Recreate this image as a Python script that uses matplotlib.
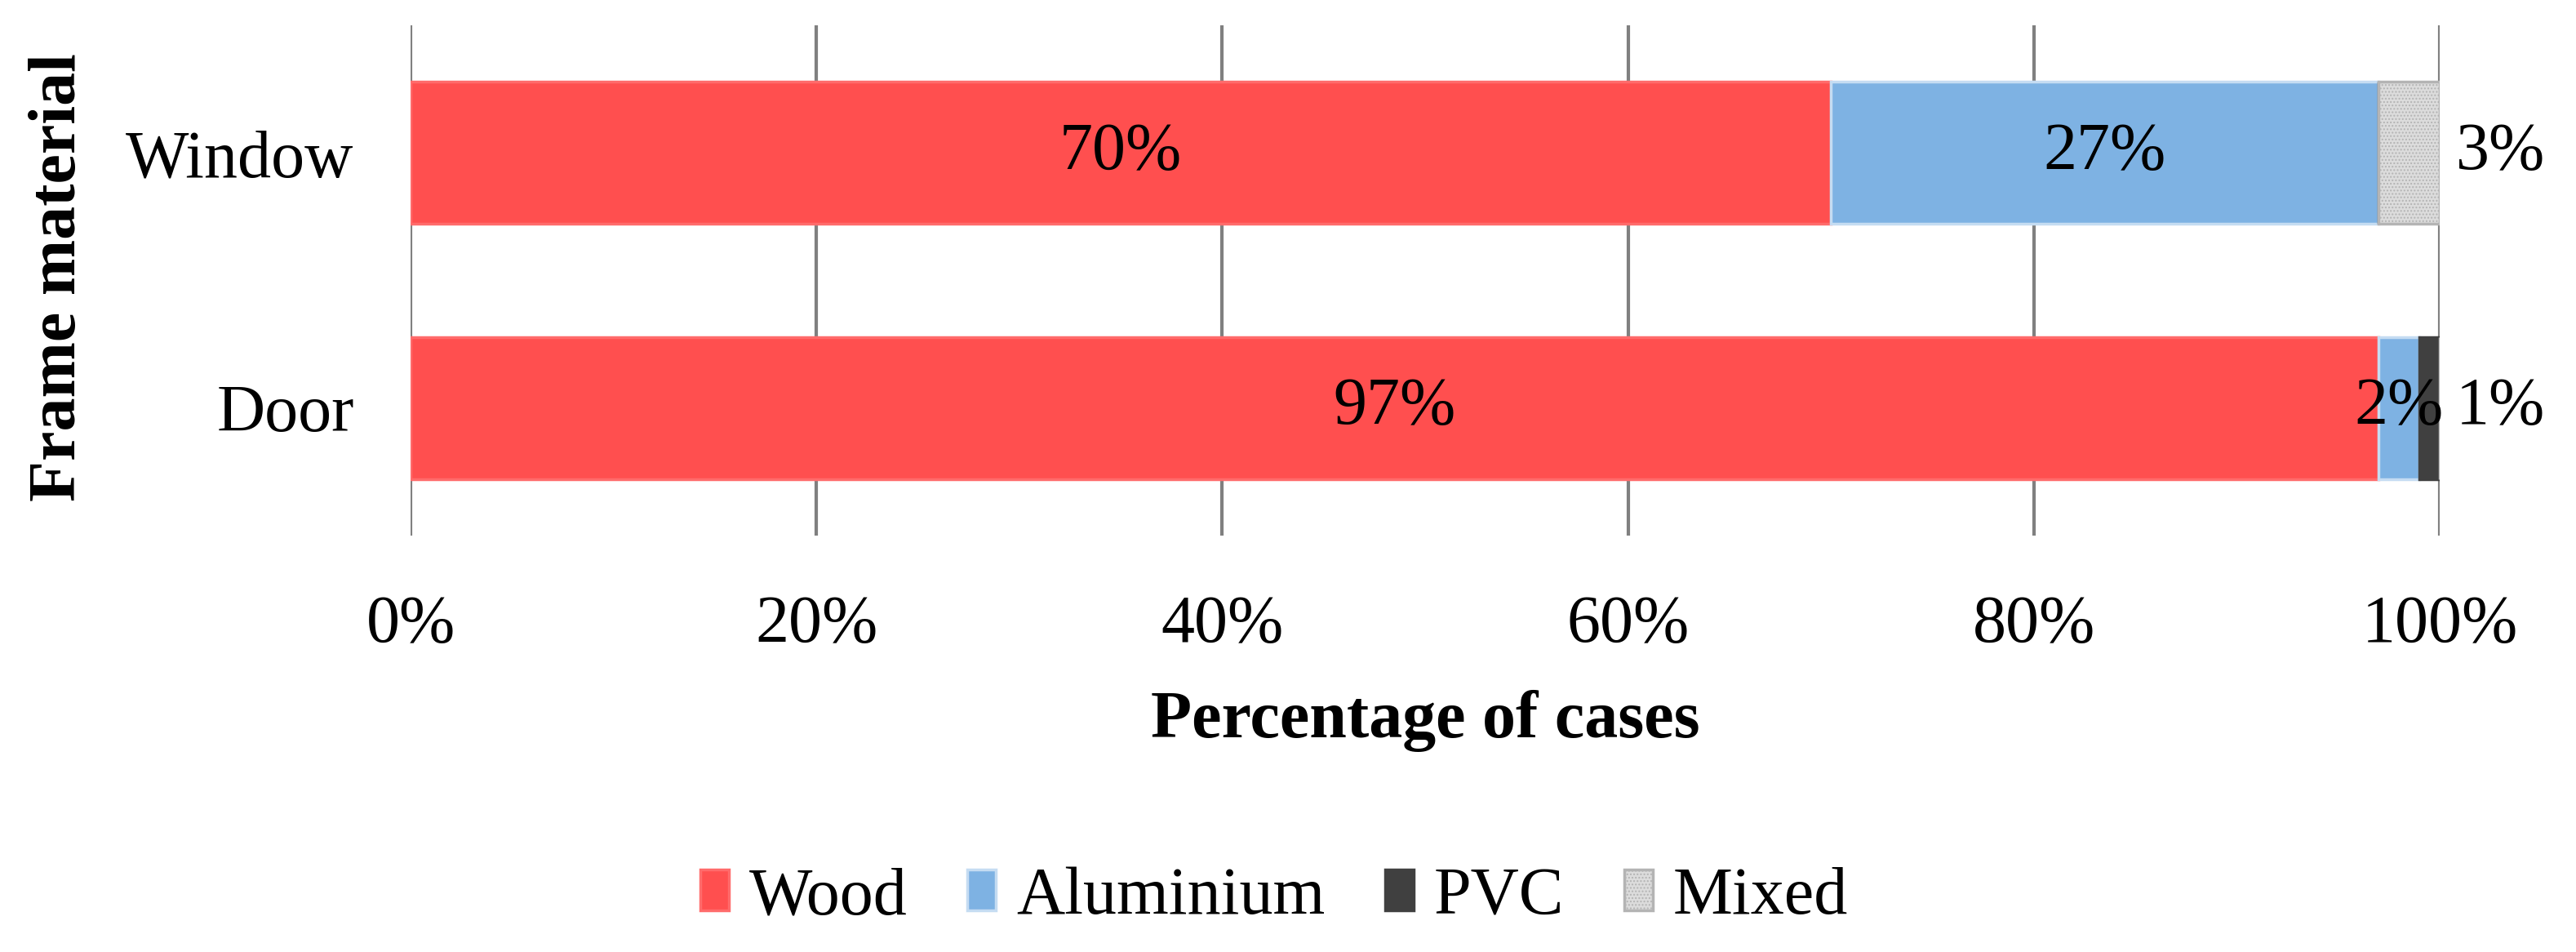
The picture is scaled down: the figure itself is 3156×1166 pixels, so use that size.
import matplotlib.pyplot as plt
from matplotlib.ticker import FuncFormatter

plt.rcParams['font.family'] = ['Liberation Serif', 'DejaVu Serif']

# Frame material shares (percent), bottom row first
categories = ['Door', 'Window']
wood = [97, 70]
aluminium = [2, 27]
pvc = [1, 0]
mixed = [0, 3]

series = [
    ('Wood', wood, '#FF4F4F', '#FF6B6B', None),
    ('Aluminium', aluminium, '#7EB2E3', '#C5DCF2', None),
    ('PVC', pvc, '#404040', '#404040', None),
    ('Mixed', mixed, '#DCDCDC', '#B4B4B4', '....'),
]

fs = 59
fig = plt.figure(figsize=(31.56, 11.66), dpi=100)
ax = fig.add_axes([0.1594, 0.4374, 0.7877, 0.536])

y = list(range(len(categories)))
left = [0] * len(categories)
for name, vals, fc, ec, hatch in series:
    bars = ax.barh(y, vals, left=left, height=0.556, color=fc, edgecolor=ec,
                   linewidth=2.5, hatch=hatch, label=name, zorder=3)
    for i, v in enumerate(vals):
        if v <= 0:
            continue
        if name in ('Wood', 'Aluminium'):
            ax.text(left[i] + v / 2, y[i], f'{v}%', ha='center', va='center',
                    fontsize=fs, zorder=5)
        else:
            ax.text(100.8, y[i], f'{v}%', ha='left', va='center',
                    fontsize=fs, zorder=5)
    left = [l + v for l, v in zip(left, vals)]

ax.set_xlim(0, 100)
ax.set_ylim(-0.5, 1.5)
ax.set_xticks(range(0, 101, 20))
ax.xaxis.set_major_formatter(FuncFormatter(lambda v, p: f'{v:.0f}%'))
ax.set_yticks(y)
ax.set_yticklabels(categories)
ax.tick_params(axis='both', length=0, labelsize=fs)
ax.tick_params(axis='x', pad=52)
ax.tick_params(axis='y', pad=50)
ax.grid(axis='x', color='#808080', linewidth=3, zorder=0)
ax.set_axisbelow(True)
for s in ax.spines.values():
    s.set_visible(False)

ax.set_xlabel('Percentage of cases', fontsize=fs, fontweight='bold', labelpad=30)
fig.text(0.023, 0.709, 'Frame material', rotation=90, ha='center', va='center',
         fontsize=fs, fontweight='bold')

ax.legend(loc='center', bbox_to_anchor=(0.4946, 0.057), bbox_transform=fig.transFigure,
          ncol=4, frameon=False, fontsize=fs, handlelength=0.43, handleheight=0.56,
          handletextpad=0.3, columnspacing=0.9)

fig.savefig('out.png', dpi=100)
